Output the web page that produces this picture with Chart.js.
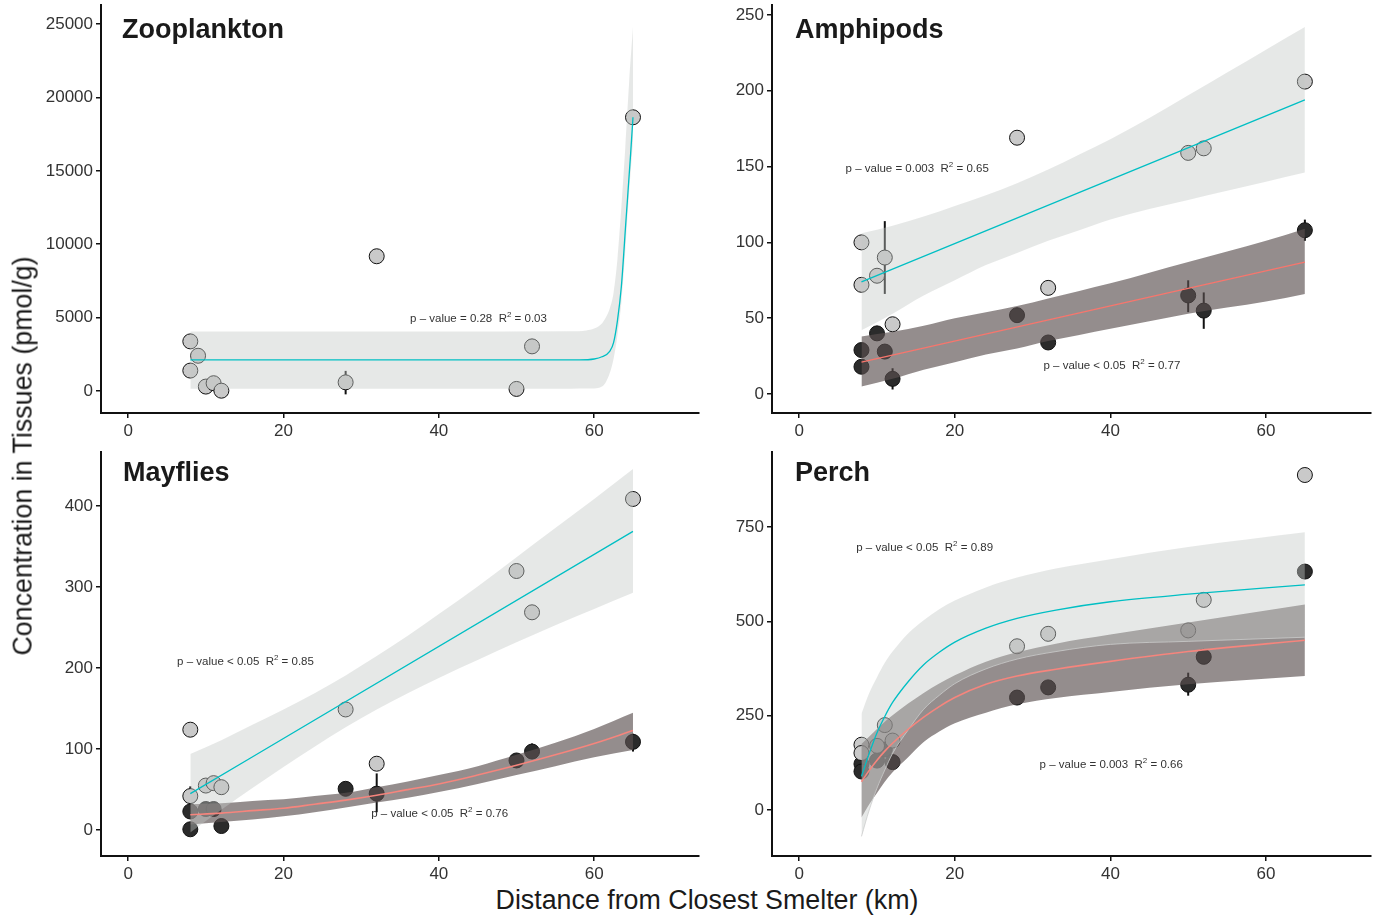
<!DOCTYPE html>
<html>
<head>
<meta charset="utf-8">
<script src="https://cdn.jsdelivr.net/npm/chart.js@4.4.1/dist/chart.umd.min.js"></script>
<style>
  html, body { margin: 0; padding: 0; background: #ffffff; }
  body { width: 1376px; height: 915px; position: relative; overflow: hidden; font-family: "Liberation Sans", Arial, sans-serif; }
  canvas { position: absolute; }
  .ytitle { position: absolute; left: 23px; top: 456px; transform: translate(-50%, -50%) rotate(-90deg); font-size: 26.8px; line-height: 26.8px; white-space: nowrap; color: #1a1a1a; }
  .xtitle { position: absolute; left: 707px; top: 887px; transform: translateX(-50%); font-size: 26.8px; line-height: 26.8px; white-space: nowrap; color: #1a1a1a; }
</style>
</head>
<body>
<canvas id="c1" width="700" height="440" style="left:0;top:0"></canvas>
<canvas id="c2" width="676" height="440" style="left:700px;top:0"></canvas>
<canvas id="c3" width="700" height="440" style="left:0;top:440px"></canvas>
<canvas id="c4" width="676" height="440" style="left:700px;top:440px"></canvas>
<div class="ytitle">Concentration in Tissues (pmol/g)</div>
<div class="xtitle">Distance from Closest Smelter (km)</div>
<script>
// ---------------- DATA ----------------
const xTicks = [0, 20, 40, 60];
const siteKm = [8, 8, 10, 11, 12, 28, 32, 50, 52, 65];
const lineKm = [8, 65];
const bandKm = [8, 12, 16, 20, 24, 28, 32, 36, 40, 45, 50, 55, 60, 65];

// Zooplankton
const zooKm = [8, 9, 8, 10, 11, 12, 28, 32, 50, 52, 65];
const zooConc = [3380, 2400, 1390, 300, 530, 20, 590, 9180, 140, 3040, 18650];
const zooTicks = [0, 5000, 10000, 15000, 20000, 25000];
const zooFitKm = [8, 20, 40, 55, 58, 60, 61, 62, 62.5, 63, 63.5, 64.1, 64.7, 65];
const zooFit = [2115, 2115, 2115, 2115, 2118, 2180, 2330, 2700, 3300, 4800, 7100, 11650, 16190, 18650];
const zooBandKm = [8, 40, 57, 59, 60, 61, 61.5, 62, 62.5, 63, 63.5, 64, 64.5, 65];
const zooBandHi = [4060, 4060, 4070, 4120, 4250, 4600, 5000, 5600, 6700, 9000, 12500, 16500, 21000, 24800];
const zooBandLo = [160, 160, 160, 165, 170, 300, 600, 1200, 2200, 3800, 6000, 9500, 13500, 17000];
const zooErrKm = [28], zooErrLo = [-230], zooErrHi = [1370];

// Amphipods
const ampLight = [100, 72, 78, 90, 46, 169, 70, 159, 162, 206];
const ampDark = [29, 18, 40, 28, 10, 52, 34, 65, 55, 108];
const ampTicks = [0, 50, 100, 150, 200, 250];
const ampLightFit = [74, 194];
const ampDarkFit = [21, 87];
const ampLightHi = [106, 111, 117, 124, 131, 139, 148, 158, 168, 182, 197, 212, 227, 242];
const ampLightLo = [42, 53, 65, 75, 85, 93, 101, 108, 115, 122, 128, 134, 140, 146];
const ampDarkHi = [38, 41, 45, 50, 54, 58, 63, 68, 73, 80, 87, 94, 101, 109];
const ampDarkLo = [5, 10, 16, 21, 26, 30, 35, 39, 43, 48, 53, 57, 61, 66];
const ampErrKm = [11, 12, 50, 52, 65], ampErrLo = [66, 3, 54, 43, 101], ampErrHi = [114, 17, 75, 67, 115];

// Mayflies
const mayLight = [124, 42, 55, 58, 53, 149, 82, 320, 269, 409];
const mayDark = [23, 1, 26, 26, 5, 51, 45, 86, 97, 109];
const mayTicks = [0, 100, 200, 300, 400];
const mayLightFit = [45, 369];
const mayLightHi = [94, 111, 130, 149, 169, 191, 215, 240, 267, 301, 337, 373, 409, 446];
const mayLightLo = [-3, 25, 52, 78, 103, 127, 149, 169, 188, 210, 232, 253, 273, 293];
const mayDarkFit = [19, 21, 24, 27, 32, 37, 43, 50, 57, 68, 80, 93, 107, 123];
const mayDarkHi = [32, 33, 36, 38, 42, 46, 53, 60, 68, 79, 93, 108, 125, 145];
const mayDarkLo = [7, 10, 13, 17, 22, 28, 34, 40, 47, 57, 68, 79, 90, 99];
const mayErrKm = [8, 32, 52, 65], mayErrLo = [30, 22, 91, 97], mayErrHi = [54, 70, 107, 119];

// Perch
const perchKm = [8, 9, 10, 11, 12, 14, 16, 18, 20, 24, 28, 33, 40, 50, 65];
const perchLight = [173, 151, 170, 225, 184, 434, 467, 476, 557, 888];
const perchDark = [122, 102, 131, 160, 127, 298, 325, 332, 406, 632];
const perchTicks = [0, 250, 500, 750];
const perchLightFit = [89, 150, 205, 248, 285, 340, 385, 418, 445, 482, 508, 530, 552, 572, 597];
const perchLightHi = [255, 310, 352, 390, 420, 468, 503, 532, 555, 590, 616, 640, 665, 697, 736];
const perchLightLo = [-70, 0, 58, 106, 150, 212, 267, 304, 335, 374, 400, 420, 439, 447, 458];
const perchDarkFit = [75, 105, 132, 156, 177, 214, 246, 274, 298, 333, 355, 373, 394, 420, 450];
const perchDarkHi = [175, 195, 215, 234, 251, 282, 310, 335, 357, 393, 418, 441, 465, 497, 545];
const perchDarkLo = [-20, 15, 45, 75, 100, 140, 180, 208, 230, 258, 280, 297, 313, 333, 355];
const perchErrKm = [50], perchErrLo = [303], perchErrHi = [364];

// ---------------- STYLE ----------------
const FONT = '"Liberation Sans", Arial, Helvetica, sans-serif';
const CYAN = '#00BFC4';
const RED = '#F8766D';
const RED_SOFT = '#f6857d';
const LIGHT_PT = '#c9c9c9';
const DARK_PT = '#2b2b2b';
const LIGHT_BAND = 'rgba(196,200,198,0.42)';
const DARK_BAND = 'rgba(90,80,80,0.65)';

function pts(xs, ys) { return xs.map((x, i) => ({ x: x, y: ys[i] })); }

const textPlugin = {
  id: 'panelText',
  afterDatasetsDraw(chart, args, opts) {
    const ctx = chart.ctx;
    ctx.save();
    ctx.textBaseline = 'alphabetic';
    ctx.textAlign = 'left';
    ctx.fillStyle = '#1a1a1a';
    ctx.font = 'bold 27px ' + FONT;
    ctx.fillText(opts.title, opts.titleX, opts.titleY);
    const xs = chart.scales.x, ys = chart.scales.y;
    (opts.stats || []).forEach(s => {
      let px = xs.getPixelForValue(s.x);
      const py = ys.getPixelForValue(s.y);
      ctx.fillStyle = '#333333';
      ctx.font = '11.5px ' + FONT;
      const t1 = 'p \u2013 value ' + s.p + '  R';
      ctx.fillText(t1, px, py);
      px += ctx.measureText(t1).width;
      ctx.font = '8px ' + FONT;
      ctx.fillText('2', px, py - 5);
      px += ctx.measureText('2').width;
      ctx.font = '11.5px ' + FONT;
      ctx.fillText(' = ' + s.r, px, py);
    });
    ctx.restore();
  }
};

const errPlugin = {
  id: 'errBars',
  beforeDatasetsDraw(chart, args, opts) {
    const ctx = chart.ctx;
    const xs = chart.scales.x, ys = chart.scales.y;
    ctx.save();
    ctx.strokeStyle = '#111111';
    ctx.lineWidth = 2;
    (opts.km || []).forEach((k, i) => {
      const px = xs.getPixelForValue(k);
      ctx.beginPath();
      ctx.moveTo(px, ys.getPixelForValue(opts.lo[i]));
      ctx.lineTo(px, ys.getPixelForValue(opts.hi[i]));
      ctx.stroke();
    });
    ctx.restore();
  }
};

function pointSet(xs, ys, fill, order) {
  return { data: pts(xs, ys), showLine: false, pointRadius: 7.5, pointBorderWidth: 1,
    pointBorderColor: '#111111', pointBackgroundColor: fill, order: order };
}
function bandSet(xs, hi, lo, color, order, edge) {
  return [
    { data: pts(xs, hi), borderWidth: 0, borderColor: 'rgba(0,0,0,0)', backgroundColor: color,
      fill: '+1', pointRadius: 0, cubicInterpolationMode: 'monotone', order: order },
    { data: pts(xs, lo), borderWidth: edge ? 1 : 0, borderColor: edge || 'rgba(0,0,0,0)', backgroundColor: color,
      fill: false, pointRadius: 0, cubicInterpolationMode: 'monotone', order: order }
  ];
}
function lineSet(xs, ys, color, order, width) {
  return { data: pts(xs, ys), borderColor: color, borderWidth: width || 1.3, fill: false, pointRadius: 0,
    cubicInterpolationMode: 'monotone', order: order };
}

function axisCommon(extra) {
  return Object.assign({
    type: 'linear',
    grid: { display: true, drawOnChartArea: false, drawTicks: true, tickLength: 5, tickColor: '#111111', tickWidth: 1.5, lineWidth: 1.5 },
    border: { display: true, color: '#111111', width: 2 },
    ticks: { color: '#333333', font: { family: FONT, size: 17 }, padding: 3, autoSkip: false, maxRotation: 0,
      callback: v => String(v) }
  }, extra);
}

function makePanel(p) {
  return new Chart(document.getElementById(p.id), {
    type: 'line',
    data: { datasets: p.datasets },
    options: {
      responsive: false, animation: false, devicePixelRatio: 1, events: [],
      layout: { autoPadding: false, padding: { top: p.padTop, right: p.padRight, left: 0, bottom: 0 } },
      plugins: {
        legend: { display: false }, tooltip: { enabled: false },
        panelText: { title: p.title, titleX: p.titleX, titleY: p.titleY, stats: p.stats },
        errBars: { km: p.errKm, lo: p.errLo, hi: p.errHi }
      },
      scales: {
        x: axisCommon({
          min: -3.5, max: 73.5,
          afterBuildTicks: s => { s.ticks = xTicks.map(v => ({ value: v })); },
          afterFit: s => { s.height = p.xAxisH; s.paddingLeft = 0; s.paddingRight = 0; s.paddingTop = 0; s.paddingBottom = 0; }
        }),
        y: axisCommon({
          min: p.yMin, max: p.yMax,
          afterBuildTicks: s => { s.ticks = p.yTicks.map(v => ({ value: v })); },
          afterFit: s => { s.width = p.yAxisW; s.paddingLeft = 0; s.paddingRight = 0; s.paddingTop = 0; s.paddingBottom = 0; }
        })
      }
    },
    plugins: [textPlugin, errPlugin]
  });
}

// Zooplankton
makePanel({
  id: 'c1', padTop: 5, padRight: 1, xAxisH: 27, yAxisW: 101,
  yMin: -1500, yMax: 26300, yTicks: zooTicks,
  title: 'Zooplankton', titleX: 122, titleY: 38,
  stats: [{ x: 36.3, y: 4720, p: '= 0.28', r: '0.03' }],
  errKm: zooErrKm, errLo: zooErrLo, errHi: zooErrHi,
  datasets: [
    lineSet(zooFitKm, zooFit, CYAN, 1),
    ...bandSet(zooBandKm, zooBandHi, zooBandLo, LIGHT_BAND, 3),
    pointSet(zooKm, zooConc, LIGHT_PT, 5)
  ]
});

// Amphipods
makePanel({
  id: 'c2', padTop: 5, padRight: 5, xAxisH: 27, yAxisW: 72,
  yMin: -12.5, yMax: 256.5, yTicks: ampTicks,
  title: 'Amphipods', titleX: 95, titleY: 38,
  stats: [{ x: 5.96, y: 146.6, p: '= 0.003', r: '0.65' }, { x: 31.4, y: 16.5, p: '< 0.05', r: '0.77' }],
  errKm: ampErrKm, errLo: ampErrLo, errHi: ampErrHi,
  datasets: [
    lineSet(lineKm, ampLightFit, CYAN, 1),
    lineSet(lineKm, ampDarkFit, RED, 2),
    ...bandSet(bandKm, ampLightHi, ampLightLo, LIGHT_BAND, 3),
    ...bandSet(bandKm, ampDarkHi, ampDarkLo, DARK_BAND, 4),
    pointSet(siteKm, ampLight, LIGHT_PT, 5),
    pointSet(siteKm, ampDark, DARK_PT, 6)
  ]
});

// Mayflies
makePanel({
  id: 'c3', padTop: 12, padRight: 1, xAxisH: 24, yAxisW: 101,
  yMin: -32, yMax: 467, yTicks: mayTicks,
  title: 'Mayflies', titleX: 123, titleY: 41,
  stats: [{ x: 6.3, y: 203.7, p: '< 0.05', r: '0.85' }, { x: 31.3, y: 15.7, p: '< 0.05', r: '0.76' }],
  errKm: mayErrKm, errLo: mayErrLo, errHi: mayErrHi,
  datasets: [
    lineSet(lineKm, mayLightFit, CYAN, 1),
    lineSet(bandKm, mayDarkFit, RED_SOFT, 2, 1.6),
    ...bandSet(bandKm, mayLightHi, mayLightLo, LIGHT_BAND, 3),
    ...bandSet(bandKm, mayDarkHi, mayDarkLo, DARK_BAND, 4),
    pointSet(siteKm, mayLight, LIGHT_PT, 5),
    pointSet(siteKm, mayDark, DARK_PT, 6)
  ]
});

// Perch
makePanel({
  id: 'c4', padTop: 12, padRight: 5, xAxisH: 24, yAxisW: 72,
  yMin: -122, yMax: 949, yTicks: perchTicks,
  title: 'Perch', titleX: 95, titleY: 41,
  stats: [{ x: 7.33, y: 686, p: '< 0.05', r: '0.89' }, { x: 30.9, y: 111, p: '= 0.003', r: '0.66' }],
  errKm: perchErrKm, errLo: perchErrLo, errHi: perchErrHi,
  datasets: [
    lineSet(perchKm, perchLightFit, CYAN, 1),
    lineSet(perchKm, perchDarkFit, RED_SOFT, 2, 1.6),
    ...bandSet(perchKm, perchLightHi, perchLightLo, LIGHT_BAND, 3, 'rgba(205,205,205,0.8)'),
    ...bandSet(perchKm, perchDarkHi, perchDarkLo, DARK_BAND, 4),
    pointSet(siteKm, perchLight, LIGHT_PT, 5),
    pointSet(siteKm, perchDark, DARK_PT, 6)
  ]
});
</script>
</body>
</html>
